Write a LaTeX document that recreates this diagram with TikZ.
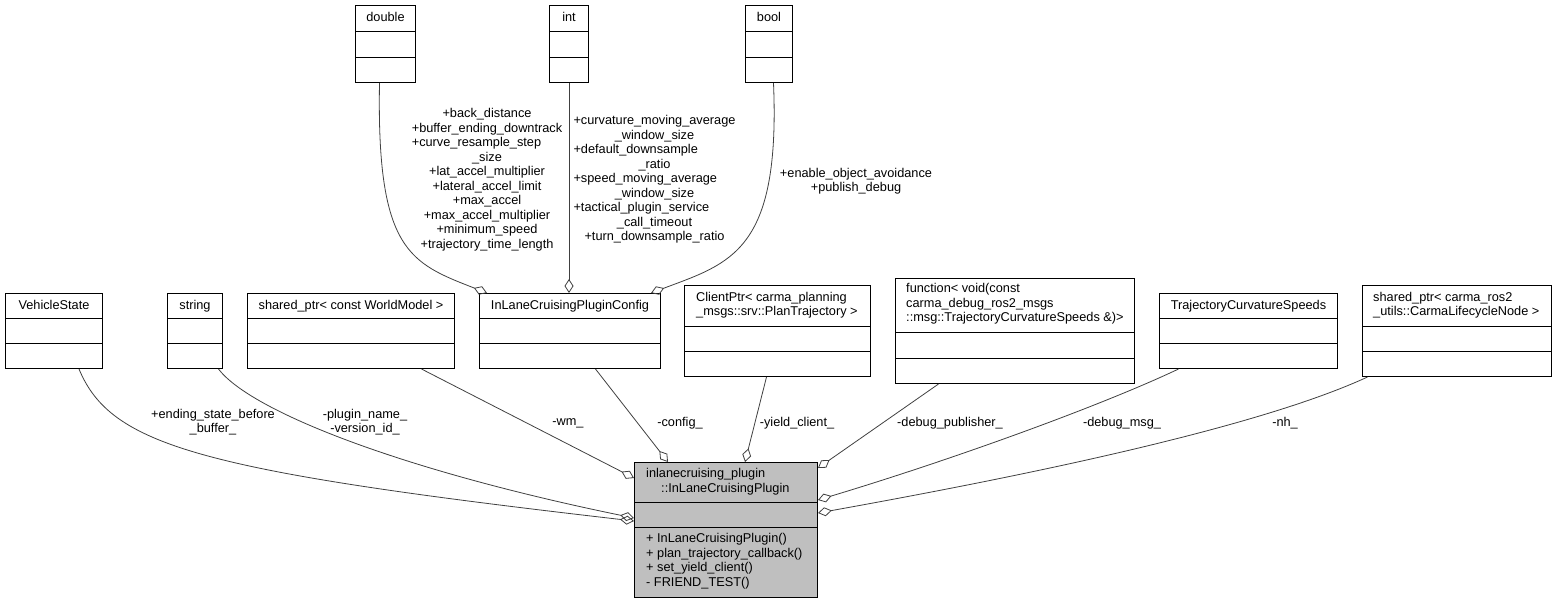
\documentclass[tikz,border=0pt]{standalone}
\usepackage{fontspec}
\setmainfont{Liberation Sans}
\usetikzlibrary{arrows.meta}
\definecolor{edgegray}{HTML}{404040}
\definecolor{mainfill}{HTML}{BFBFBF}
\begin{document}
\begin{tikzpicture}[x=1pt,y=1pt,
  every node/.style={inner sep=0pt, font=\fontsize{12.75}{14.5}\selectfont},
  cls/.style={draw=black, line width=1pt, fill=white, anchor=north west},
  sep/.style={draw=black, line width=1pt},
  agg/.style={draw=edgegray, line width=0.8pt, {Diamond[open, length=14pt, width=9pt, line width=0.8pt]}-},
  elbl/.style={align=center}]
\useasboundingbox (0,0) rectangle (1558,-603);

% upper row
\node [cls, minimum width=60pt, minimum height=77pt] (dbl) at (355,-5) {};
\node [cls, minimum width=39pt, minimum height=77pt] (int) at (549,-5) {};
\node [cls, minimum width=47pt, minimum height=77pt] (bool) at (745,-5) {};
% middle row
\node [cls, minimum width=97pt, minimum height=75pt] (vstate) at (5,-293) {};
\node [cls, minimum width=55pt, minimum height=75pt] (str) at (167,-293) {};
\node [cls, minimum width=207pt, minimum height=75pt] (wmptr) at (247,-293) {};
\node [cls, minimum width=181pt, minimum height=75pt] (config) at (479,-293) {};
\node [cls, minimum width=186pt, minimum height=91pt] (client) at (684,-285) {};
\node [cls, minimum width=239pt, minimum height=105pt] (func) at (895,-278) {};
\node [cls, minimum width=178pt, minimum height=75pt] (tcs) at (1159,-293) {};
\node [cls, minimum width=189pt, minimum height=91pt] (lnode) at (1362,-285) {};
% the class itself
\node [cls, fill=mainfill, minimum width=183pt, minimum height=135pt] (plugin) at (634,-462) {};

\foreach \n/\a/\b in {dbl/26/52, int/26/52, bool/26/52, vstate/25/50, str/25/50, wmptr/25/50,
    config/25/50, client/41/66, func/54/80, tcs/25/50, lnode/41/66, plugin/40/65} {
  \draw [sep] ([yshift=-\a pt]\n.north west) -- ([yshift=-\a pt]\n.north east);
  \draw [sep] ([yshift=-\b pt]\n.north west) -- ([yshift=-\b pt]\n.north east);
}

\node [anchor=base] (dbl-h) at ([yshift=-16.5pt]dbl.north) {double};
\node [anchor=base] (int-h) at ([yshift=-16.5pt]int.north) {int};
\node [anchor=base] (bool-h) at ([yshift=-16.5pt]bool.north) {bool};
\node [anchor=base] (vstate-h) at ([yshift=-16.5pt]vstate.north) {VehicleState};
\node [anchor=base] (str-h) at ([yshift=-16.5pt]str.north) {string};
\node [anchor=base] (wmptr-h) at ([yshift=-16.5pt]wmptr.north) {shared\_ptr< const WorldModel >};
\node [anchor=base] (config-h) at ([yshift=-16.5pt]config.north) {InLaneCruisingPluginConfig};
\node [anchor=west, align=left] (client-h) at ([xshift=12pt,yshift=-20pt]client.north west)
  {ClientPtr< carma\_planning\\\_msgs::srv::PlanTrajectory >};
\node [anchor=west, align=left] (func-h) at ([xshift=11pt,yshift=-26pt]func.north west)
  {function< void(const\\ carma\_debug\_ros2\_msgs\\::msg::TrajectoryCurvatureSpeeds \&)>};
\node [anchor=base] (tcs-h) at ([yshift=-16.5pt]tcs.north) {TrajectoryCurvatureSpeeds};
\node [anchor=west, align=left] (lnode-h) at ([xshift=11pt,yshift=-20pt]lnode.north west)
  {shared\_ptr< carma\_ros2\\\_utils::CarmaLifecycleNode >};
\node [anchor=west, align=left] (plugin-h) at ([xshift=12pt,yshift=-19.5pt]plugin.north west)
  {inlanecruising\_plugin\\\hspace*{15pt}::InLaneCruisingPlugin};
\node [anchor=west, align=left] (plugin-m) at ([xshift=12pt,yshift=-99pt]plugin.north west)
  {+ InLaneCruisingPlugin()\\+ plan\_trajectory\_callback()\\+ set\_yield\_client()\\- FRIEND\_TEST()};

% members of the config
\draw [agg] ([xshift=8pt]config.north west) .. controls +(-77,30) and +(-3,-168) .. ([xshift=-6pt]dbl.south);
\draw [agg] (config.north -| int.south) -- (int.south);
\draw [agg] ([xshift=-10pt]config.north east) .. controls +(80,30) and +(7,-168) .. ([xshift=4.5pt]bool.south);
\node (l-dbl) at (487,-180) {\begin{tabular}{@{}c@{}}
+back\_distance\\
+buffer\_ending\_downtrack\\
\multicolumn{1}{@{}l@{}}{+curve\_resample\_step}\\
\_size\\
+lat\_accel\_multiplier\\
+lateral\_accel\_limit\\
+max\_accel\\
+max\_accel\_multiplier\\
+minimum\_speed\\
+trajectory\_time\_length
\end{tabular}};
\node (l-int) at (654.5,-180) {\begin{tabular}{@{}c@{}}
+curvature\_moving\_average\\
\_window\_size\\
\multicolumn{1}{@{}l@{}}{+default\_downsample}\\
\_ratio\\
\multicolumn{1}{@{}l@{}}{+speed\_moving\_average}\\
\_window\_size\\
\multicolumn{1}{@{}l@{}}{+tactical\_plugin\_service}\\
\_call\_timeout\\
+turn\_downsample\_ratio
\end{tabular}};
\node [elbl] (l-bool) at (856,-181) {+enable\_object\_avoidance\\+publish\_debug};

% members of the plugin
\draw [agg] ([yshift=-59pt]plugin.north west) .. controls +(-434,50) and +(32,-77) .. ([xshift=25pt]vstate.south);
\draw [agg] ([yshift=-56pt]plugin.north west) .. controls +(-234,48) and +(32,-42) .. ([xshift=23.5pt]str.south);
\draw [agg] ([yshift=-16pt]plugin.north west) -- ([xshift=70.5pt]wmptr.south);
\draw [agg] ([xshift=34pt]plugin.north west) -- ([xshift=25.5pt]config.south);
\draw [agg] ([xshift=111pt]plugin.north west) -- ([xshift=-11pt]client.south);
\draw [agg] ([yshift=-6pt]plugin.north east) -- ([xshift=-76.5pt]func.south);
\draw [agg] ([yshift=-38pt]plugin.north east) .. controls +(133,40) and +(-78,-37) .. ([xshift=-70pt]tcs.south);
\draw [agg] ([yshift=-51pt]plugin.north east) .. controls +(183,33) and +(-117,-54) .. ([xshift=-89.5pt]lnode.south);
\node [elbl] (l-ending) at (213,-422) {+ending\_state\_before\\\_buffer\_};
\node [elbl] (l-names) at (365,-422) {-plugin\_name\_\\-version\_id\_};
\node (l-wm) at (568,-423) {-wm\_};
\node (l-config) at (680,-423) {-config\_};
\node (l-yield) at (797,-423) {-yield\_client\_};
\node (l-pub) at (950,-423) {-debug\_publisher\_};
\node (l-msg) at (1122,-423) {-debug\_msg\_};
\node (l-nh) at (1285,-423) {-nh\_};
\end{tikzpicture}
\end{document}
